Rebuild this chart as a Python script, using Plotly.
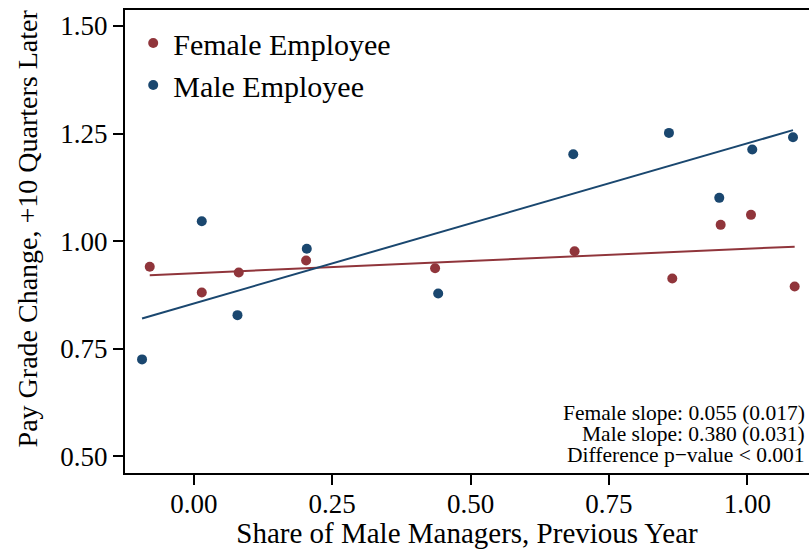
import numpy as np
import plotly.graph_objects as go

# Binned scatter data
female_x = [-0.0795, 0.0145, 0.0813, 0.203, 0.436, 0.688, 0.8645, 0.9519, 1.0067, 1.0856]
female_y = [0.9405, 0.881, 0.9273, 0.9552, 0.9373, 0.9768, 0.9134, 1.038, 1.0612, 0.8948]
male_x = [-0.0934, 0.0145, 0.079, 0.2042, 0.4416, 0.6856, 0.8585, 0.9494, 1.009, 1.0826]
male_y = [0.7254, 1.0464, 0.8282, 0.9824, 0.8786, 1.202, 1.2516, 1.1007, 1.2129, 1.2414]

# Fitted lines (intercept, slope)
female_fit = (0.9255, 0.057)
male_fit = (0.8553, 0.372)

x_ticks = [0.0, 0.25, 0.5, 0.75, 1.0]
x_tick_labels = ["0.00", "0.25", "0.50", "0.75", "1.00"]
y_ticks = [0.5, 0.75, 1.0, 1.25, 1.5]
y_tick_labels = ["0.50", "0.75", "1.00", "1.25", "1.50"]

notes = ["Female slope: 0.055 (0.017)",
         "Male slope: 0.380 (0.031)",
         "Difference p\u2212value < 0.001"]

RED = "#90353b"
BLUE = "#1a476f"
FONT = "Liberation Serif"

fig = go.Figure()

def fit_line(xs, fit):
    xx = np.array([min(xs), max(xs)])
    return xx, fit[0] + fit[1] * xx

fx, fy = fit_line(female_x, female_fit)
mx, my = fit_line(male_x, male_fit)

fig.add_trace(go.Scatter(x=fx, y=fy, mode="lines", line=dict(color=RED, width=2),
                         showlegend=False, hoverinfo="skip"))
fig.add_trace(go.Scatter(x=mx, y=my, mode="lines", line=dict(color=BLUE, width=2),
                         showlegend=False, hoverinfo="skip"))
fig.add_trace(go.Scatter(x=female_x, y=female_y, mode="markers", name="Female Employee",
                         marker=dict(color=RED, size=10), legendgroup="f"))
fig.add_trace(go.Scatter(x=male_x, y=male_y, mode="markers", name="Male Employee",
                         marker=dict(color=BLUE, size=10), legendgroup="m"))

axis_common = dict(showgrid=False, zeroline=False, showline=True, linecolor="black",
                   linewidth=2, ticks="outside", ticklen=10, tickwidth=1.5,
                   tickcolor="black", tickfont=dict(family=FONT, size=27, color="black"))

fig.update_xaxes(range=[-0.1242, 1.1115], tickvals=x_ticks, ticktext=x_tick_labels,
                 mirror=True, ticklabelstandoff=-4,
                 title=dict(text="Share of Male Managers, Previous Year",
                            font=dict(family=FONT, size=29, color="black"), standoff=0),
                 **axis_common)
fig.update_yaxes(range=[0.4615, 1.5371], tickvals=y_ticks, ticktext=y_tick_labels,
                 **axis_common)

# y-axis title as rotated annotation (centred a bit above the plot middle, as in the reference)
fig.add_annotation(text="Pay Grade Change, +10 Quarters Later", xref="paper", yref="paper",
                   x=-0.142, y=0.528, xanchor="center", yanchor="middle", textangle=-90,
                   showarrow=False, font=dict(family=FONT, size=28, color="black"))

ys = [0.129, 0.084, 0.039]
for t, yy in zip(notes, ys):
    fig.add_annotation(text=t, xref="paper", yref="paper", x=0.997, y=yy,
                       xanchor="right", yanchor="middle", showarrow=False,
                       font=dict(family=FONT, size=21.5, color="black"))

fig.update_layout(
    width=809, height=549,
    margin=dict(l=125, r=0, t=10, b=76, autoexpand=False),
    paper_bgcolor="white", plot_bgcolor="white",
    legend=dict(x=0.012, y=0.985, xanchor="left", yanchor="top",
                font=dict(family=FONT, size=30, color="black"),
                bgcolor="rgba(0,0,0,0)", tracegroupgap=0),
    font=dict(family=FONT),
)

fig.write_html("out.html", config={"displayModeBar": False},
               post_script="document.body.style.margin='0px';document.body.style.overflow='hidden';")
